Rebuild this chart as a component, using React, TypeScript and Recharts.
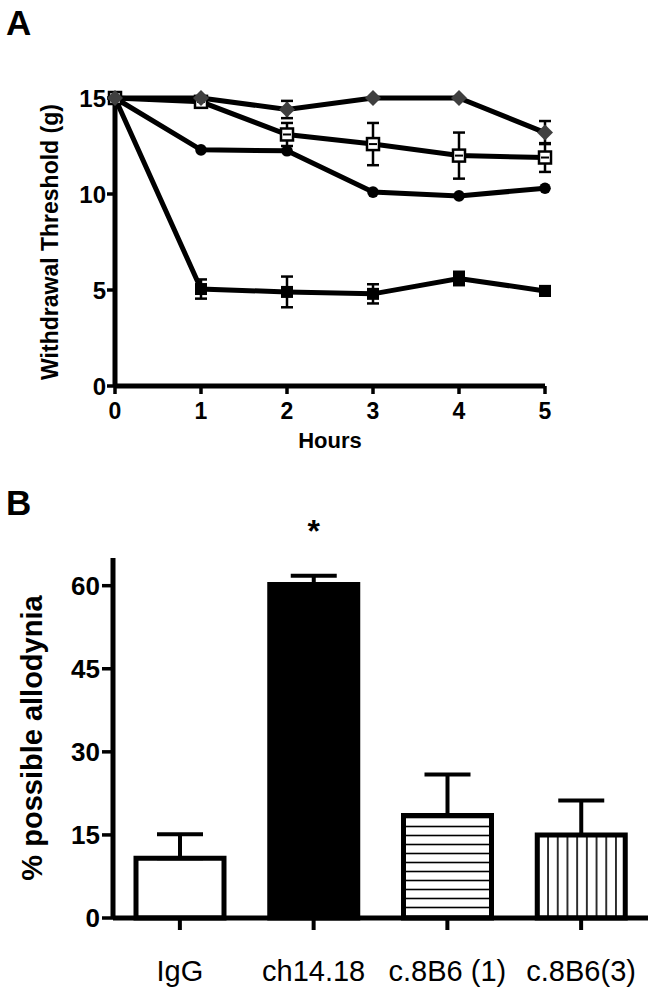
import {
  LineChart,
  Line,
  XAxis,
  YAxis,
  ErrorBar,
  BarChart,
  Bar,
  Cell,
  LabelList,
} from "recharts";

// Panel A: withdrawal threshold over time
const hours = [0, 1, 2, 3, 4, 5];
const diamondMean = [15, 15, 14.4, 15, 15, 13.2];
const diamondSem = [0, 0, 0.45, 0, 0, 0.6];
const openSquareMean = [15, 14.8, 13.1, 12.6, 12.0, 11.9];
const openSquareSem = [0, 0.2, 0.6, 1.1, 1.2, 0.75];
const circleMean = [15, 12.3, 12.25, 10.1, 9.9, 10.3];
const filledSquareMean = [15, 5.05, 4.9, 4.8, 5.6, 4.95];
const filledSquareSem = [0, 0.5, 0.8, 0.5, 0.35, 0.25];
const thresholdTicks = [0, 5, 10, 15];

// Panel B: % possible allodynia
const groups = ["IgG", "ch14.18", "c.8B6 (1)", "c.8B6(3)"];
const allodynia = [10.8, 60.2, 18.5, 15.0];
const allodyniaSem = [4.3, 1.6, 7.4, 6.2];
const significance = ["", "*", "", ""];
const allodyniaTicks = [0, 15, 30, 45, 60];
const barFills = ["#fff", "#000", "url(#hstripes)", "url(#vstripes)"];

const FONT = "'Liberation Sans', Arial, sans-serif";
const NARROW = "'Liberation Sans Narrow', 'Arial Narrow', 'Liberation Sans', Arial, sans-serif";

const lineRows = hours.map((h, i) => ({
  hour: h,
  diamond: diamondMean[i],
  diamondErr: diamondSem[i],
  openSq: openSquareMean[i],
  openSqErr: openSquareSem[i],
  circle: circleMean[i],
  filledSq: filledSquareMean[i],
  filledSqErr: filledSquareSem[i],
}));

const barRows = groups.map((g, i) => ({
  group: g,
  value: allodynia[i],
  err: [0, allodyniaSem[i]],
  sig: significance[i],
}));

const FilledSquare = (p: any) => (
  <rect key={`fs-${p.index}`} x={p.cx - 6} y={p.cy - 6} width={12} height={12} fill="#000" />
);

const Circle = (p: any) => (
  <circle key={`c-${p.index}`} cx={p.cx} cy={p.cy} r={5.8} fill="#000" />
);

const OpenSquare = (p: any) => (
  <g key={`os-${p.index}`}>
    <rect x={p.cx - 6} y={p.cy - 6} width={12} height={12} fill="#fff" stroke="#000" strokeWidth={2.5} />
    <line x1={p.cx - 4} x2={p.cx + 4} y1={p.cy} y2={p.cy} stroke="#000" strokeWidth={2} />
  </g>
);

const Diamond = (p: any) => (
  <path
    key={`d-${p.index}`}
    d={`M${p.cx},${p.cy - 8} L${p.cx + 8},${p.cy} L${p.cx},${p.cy + 8} L${p.cx - 8},${p.cy} Z`}
    fill="#3f3f3f"
  />
);

const axisLine = { stroke: "#000", strokeWidth: 5 };
const tickLine = { stroke: "#000", strokeWidth: 3.5 };

function PanelA() {
  return (
    <LineChart
      width={658}
      height={470}
      data={lineRows}
      margin={{ top: 98, right: 113, bottom: 10, left: 0 }}
    >
      <XAxis
        type="number"
        dataKey="hour"
        domain={[0, 5]}
        ticks={hours}
        height={74}
        tickSize={8}
        tickMargin={9}
        axisLine={axisLine}
        tickLine={tickLine}
        tick={{ fill: "#000", fontSize: 23, fontWeight: "bold", fontFamily: FONT }}
        label={{
          value: "Hours",
          position: "insideBottom",
          offset: 12,
          style: { fill: "#000", fontSize: 22, fontWeight: "bold", fontFamily: FONT },
        }}
      />
      <YAxis
        type="number"
        domain={[0, 15]}
        ticks={thresholdTicks}
        width={115}
        tickSize={8}
        tickMargin={1}
        axisLine={axisLine}
        tickLine={tickLine}
        tick={{ fill: "#000", fontSize: 24, fontWeight: "bold", fontFamily: FONT }}
        label={{
          value: "Withdrawal Threshold (g)",
          angle: -90,
          position: "insideLeft",
          offset: 50,
          style: { textAnchor: "middle", fill: "#000", fontSize: 23, fontWeight: "bold", fontFamily: FONT },
        }}
      />
      <Line
        dataKey="filledSq"
        stroke="#000"
        strokeWidth={5}
        dot={FilledSquare}
        isAnimationActive={false}
      >
        <ErrorBar dataKey="filledSqErr" direction="y" width={6} strokeWidth={2.5} stroke="#000" isAnimationActive={false} />
      </Line>
      <Line dataKey="circle" stroke="#000" strokeWidth={5} dot={Circle} isAnimationActive={false} />
      <Line dataKey="openSq" stroke="#000" strokeWidth={5} dot={OpenSquare} isAnimationActive={false}>
        <ErrorBar dataKey="openSqErr" direction="y" width={6} strokeWidth={2.5} stroke="#000" isAnimationActive={false} />
      </Line>
      <Line dataKey="diamond" stroke="#000" strokeWidth={5} dot={Diamond} isAnimationActive={false}>
        <ErrorBar dataKey="diamondErr" direction="y" width={6} strokeWidth={2.5} stroke="#000" isAnimationActive={false} />
      </Line>
    </LineChart>
  );
}

function PanelB() {
  return (
    <BarChart
      width={658}
      height={512}
      data={barRows}
      margin={{ top: 78, right: 10, bottom: 0, left: 0 }}
      barCategoryGap={0}
    >
      <defs>
        <pattern id="hstripes" patternUnits="userSpaceOnUse" width={10} height={9}>
          <rect width={10} height={9} fill="#fff" />
          <line x1={0} x2={10} y1={4.5} y2={4.5} stroke="#000" strokeWidth={1.6} />
        </pattern>
        <pattern id="vstripes" patternUnits="userSpaceOnUse" width={9.7} height={10}>
          <rect width={9.7} height={10} fill="#fff" />
          <line x1={4.85} x2={4.85} y1={0} y2={10} stroke="#000" strokeWidth={1.6} />
        </pattern>
      </defs>
      <XAxis
        dataKey="group"
        height={74}
        tickSize={12}
        tickMargin={30}
        axisLine={axisLine}
        tickLine={{ stroke: "#000", strokeWidth: 4 }}
        tick={{ fill: "#000", fontSize: 29, fontFamily: NARROW }}
        interval={0}
      />
      <YAxis
        type="number"
        domain={[0, 65]}
        ticks={allodyniaTicks}
        width={113}
        tickSize={11}
        tickMargin={2}
        axisLine={axisLine}
        tickLine={tickLine}
        tick={{ fill: "#000", fontSize: 26, fontWeight: "bold", fontFamily: FONT }}
        label={{
          value: "% possible allodynia",
          angle: -90,
          position: "insideLeft",
          offset: 32,
          style: { textAnchor: "middle", fill: "#000", fontSize: 29, fontWeight: "bold", fontFamily: FONT },
        }}
      />
      <Bar dataKey="value" barSize={88} stroke="#000" strokeWidth={5} isAnimationActive={false}>
        {barRows.map((r, i) => (
          <Cell key={r.group} fill={barFills[i]} />
        ))}
        <ErrorBar dataKey="err" direction="y" width={23} strokeWidth={4} stroke="#000" isAnimationActive={false} />
        <LabelList
          dataKey="sig"
          position="top"
          offset={43}
          style={{ fill: "#000", fontSize: 32, fontWeight: "bold", fontFamily: FONT }}
        />
      </Bar>
    </BarChart>
  );
}

const panelLabel = {
  position: "absolute" as const,
  left: 6,
  fontFamily: FONT,
  fontWeight: "bold" as const,
  fontSize: 35,
  lineHeight: 1,
  color: "#000",
};

export default function App() {
  return (
    <div style={{ position: "absolute", left: 0, top: 0, width: 658, height: 992, background: "#fff" }}>
      <div style={{ ...panelLabel, top: 5 }}>A</div>
      <div style={{ position: "absolute", left: 0, top: 0 }}>
        <PanelA />
      </div>
      <div style={{ ...panelLabel, top: 485 }}>B</div>
      <div style={{ position: "absolute", left: 0, top: 480 }}>
        <PanelB />
      </div>
    </div>
  );
}
